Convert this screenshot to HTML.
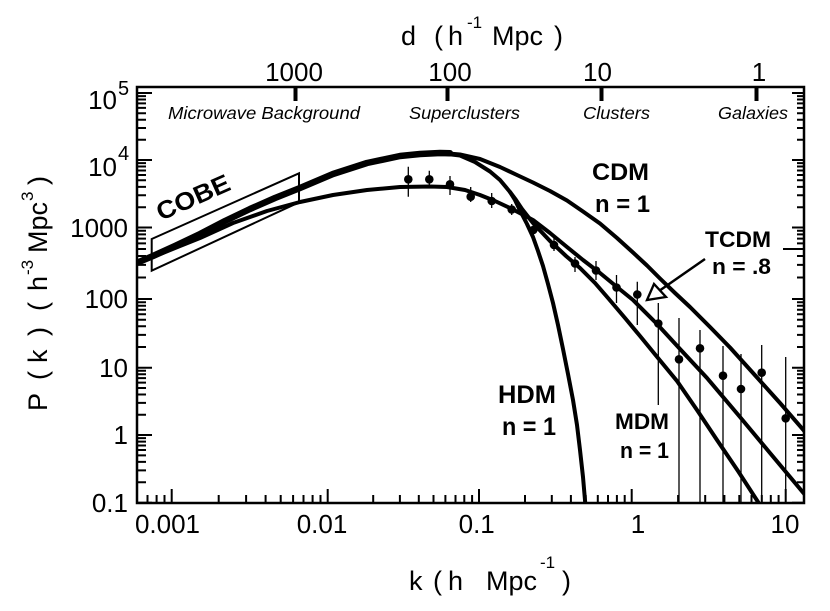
<!DOCTYPE html>
<html><head><meta charset="utf-8"><style>
html,body{margin:0;padding:0;background:#fff;}
svg{display:block;}
text{font-family:"Liberation Sans",Arial,sans-serif;fill:#000;}
</style></head><body>
<svg width="830" height="611" viewBox="0 0 830 611" xmlns="http://www.w3.org/2000/svg">
<defs><clipPath id="pc"><rect x="137" y="87" width="667" height="416"/></clipPath></defs>
<rect width="830" height="611" fill="#fff"/>

<!-- ticks -->
<g stroke="#000" stroke-width="2" fill="none">
<path d="M137 502.7h15M137 435h15M137 367.7h15M137 299h15M137 227.5h15M137 160h15M137 93h15
M137 482.3h9M137 470.4h9M137 461.9h9M137 455.4h9M137 450h9M137 445.5h9M137 441.6h9M137 438.1h9
M137 414.7h9M137 402.9h9M137 394.5h9M137 388h9M137 382.6h9M137 378.1h9M137 374.2h9M137 370.8h9
M137 347h9M137 334.9h9M137 326.3h9M137 319.7h9M137 314.2h9M137 309.7h9M137 305.7h9M137 302.2h9
M137 277.5h9M137 264.9h9M137 256h9M137 249h9M137 243.4h9M137 238.6h9M137 234.4h9M137 230.8h9
M137 207.2h9M137 195.3h9M137 186.9h9M137 180.3h9M137 175h9M137 170.5h9M137 166.5h9M137 163.1h9
M137 139.8h9M137 128h9M137 119.7h9M137 113.2h9M137 107.9h9M137 103.4h9M137 99.5h9M137 96.1h9"/>
<path d="M804 502.7h-12M804 435h-12M804 367.7h-12M804 299h-12M804 227.5h-12M804 160h-12M804 93h-12
M804 482.3h-7M804 470.4h-7M804 461.9h-7M804 455.4h-7M804 450h-7M804 445.5h-7M804 441.6h-7M804 438.1h-7
M804 414.7h-7M804 402.9h-7M804 394.5h-7M804 388h-7M804 382.6h-7M804 378.1h-7M804 374.2h-7M804 370.8h-7
M804 347h-7M804 334.9h-7M804 326.3h-7M804 319.7h-7M804 314.2h-7M804 309.7h-7M804 305.7h-7M804 302.2h-7
M804 277.5h-7M804 264.9h-7M804 256h-7M804 249h-7M804 243.4h-7M804 238.6h-7M804 234.4h-7M804 230.8h-7
M804 207.2h-7M804 195.3h-7M804 186.9h-7M804 180.3h-7M804 175h-7M804 170.5h-7M804 166.5h-7M804 163.1h-7
M804 139.8h-7M804 128h-7M804 119.7h-7M804 113.2h-7M804 107.9h-7M804 103.4h-7M804 99.5h-7M804 96.1h-7"/>
<path d="M171.7 503v-14M327.7 503v-14M479 503v-14M631.7 503v-14M785.7 503v-14
M147.5 503v-8M156.6 503v-8M164.5 503v-8
M218.7 503v-8M246.1 503v-8M265.6 503v-8M280.7 503v-8M293.1 503v-8M303.5 503v-8M312.6 503v-8M320.5 503v-8
M373.2 503v-8M399.9 503v-8M418.8 503v-8M433.5 503v-8M445.4 503v-8M455.5 503v-8M464.3 503v-8M472.1 503v-8
M525 503v-8M551.8 503v-8M570.9 503v-8M585.7 503v-8M597.8 503v-8M608 503v-8M616.9 503v-8M624.7 503v-8
M678.1 503v-8M705.2 503v-8M724.4 503v-8M739.3 503v-8M751.5 503v-8M761.8 503v-8M770.8 503v-8M778.6 503v-8"/>
<path d="M783 249h14"/>
</g>
<g fill="#000">
<rect x="293.5" y="87" width="4" height="14"/>
<rect x="445.5" y="87" width="4" height="14"/>
<rect x="599.5" y="87" width="4" height="14"/>
<rect x="754.5" y="87" width="4" height="14"/>
</g>

<!-- frame -->
<rect x="137" y="87" width="667" height="416" fill="none" stroke="#000" stroke-width="2.5"/>

<!-- COBE box -->
<polygon points="151.7,239 299,173.3 299,202.3 151.7,270.7" fill="none" stroke="#000" stroke-width="2"/>

<!-- curves -->
<g clip-path="url(#pc)" fill="none" stroke="#000" stroke-linejoin="round" stroke-linecap="round">
<path stroke-width="6.5" d="M134,264 L153,256 L175,246 L200,234 L225,221 L250,209 L275,198 L300,188 L333,174 L367,163 L400,156 L420,154 L440,153 L450,153.3"/>
<path stroke-width="4" d="M430,153.2 L443,153 L460,154.5 L480,159 L500,167 L517,175 L533,182.5 L550,191 L567,200.5 L583,211.5 L600,223.5 L617,238 L633,252.5 L647,265.5 L660,278.5 L675,293 L690,307 L710,327 L730,347.5 L753,373 L780,403 L806,433"/>
<path stroke-width="4" d="M430,153.5 L443,153.5 L460,155.5 L475,162 L490,171.5 L500,180 L510,192 L515,200 L520,210.5 L527,224 L533,237 L538,251 L543,266 L548,284 L553,303 L558,325 L563,349 L568,374 L573,400 L577,425 L580,450 L583,477 L585.5,506"/>
<path stroke-width="4" d="M510,192 L516,200 L522,209 L533,223 L550,241 L566,256 L580,268 L595,283 L608,298 L625,318 L640,336 L658,358 L677,381 L697,410 L717,440 L738,471 L760,505"/>
<path stroke-width="4" d="M134,264 L153,257 L180,246 L200,238 L233,223 L267,211 L300,202 L333,195 L367,190 L400,187 L430,186.5 L447,187 L465,190 L480,195 L495,201 L512,209 L533,220 L550,233 L567,247 L583,260 L600,273 L617,287 L633,300 L657,324 L680,349 L707,378 L740,417 L770,453 L806,496"/>
</g>

<!-- error bars -->
<g stroke="#000" stroke-width="1.3">
<path d="M408.3 166.7V196.7M429.3 170.7V185M450 176V195M470.7 187V202M491.7 193V208M511.7 204V215M533.3 224V236M554 238V251M575 257V272M596 261V280M616.5 275V303M637.3 281.7V325M658.3 303V405M679 318V503M700 330V503M723 346V503M741 354V503M761.7 345V503M785.7 357V503"/>
</g>
<g fill="#000">
<circle cx="408.3" cy="179.3" r="4.3"/><circle cx="429.3" cy="179.3" r="4.3"/><circle cx="450" cy="184.3" r="4.3"/>
<circle cx="470.7" cy="196.7" r="4.3"/><circle cx="491.7" cy="201" r="4.3"/><circle cx="511.7" cy="209.5" r="4.3"/>
<circle cx="533.3" cy="230" r="4.3"/><circle cx="554" cy="245" r="4.3"/><circle cx="575" cy="263.5" r="4.3"/>
<circle cx="596" cy="270.5" r="4.3"/><circle cx="616.5" cy="287.5" r="4.3"/><circle cx="637.3" cy="294.5" r="4.3"/>
<circle cx="658.3" cy="323.5" r="4.3"/><circle cx="679" cy="359.3" r="4.3"/><circle cx="700" cy="348.3" r="4.3"/>
<circle cx="723" cy="375.7" r="4.3"/><circle cx="741" cy="389" r="4.3"/><circle cx="761.7" cy="372.7" r="4.3"/>
<circle cx="785.7" cy="418.3" r="4.3"/>
</g>

<!-- arrow -->
<path d="M705,259 L659,291" stroke="#000" stroke-width="2.5" fill="none"/>
<polygon points="647,300 654,284 666,297" fill="#fff" stroke="#000" stroke-width="2.3" stroke-linejoin="miter"/>

<!-- y tick labels -->
<g font-size="26" text-anchor="end">
<text x="128" y="512">0.1</text>
<text x="128" y="444">1</text>
<text x="128" y="377">10</text>
<text x="128" y="308">100</text>
<text x="128" y="237">1000</text>
<text x="117" y="176">10</text>
<text x="117" y="109">10</text>
</g>
<g font-size="20">
<text x="118" y="160">4</text>
<text x="118" y="95">5</text>
</g>

<!-- x tick labels -->
<g font-size="26" text-anchor="middle">
<text x="167.5" y="533">0.001</text>
<text x="322" y="533">0.01</text>
<text x="476.7" y="533">0.1</text>
<text x="638" y="533">1</text>
<text x="785" y="533">10</text>
<text x="294" y="81">1000</text>
<text x="450" y="81">100</text>
<text x="597.5" y="81">10</text>
<text x="759" y="81">1</text>
</g>

<!-- axis titles -->
<g font-size="27">
<text x="401" y="45">d</text>
<text x="434" y="45">(</text>
<text x="448" y="45">h</text>
<text x="467" y="28" font-size="17">-1</text>
<text x="492" y="45">Mpc</text>
<text x="554" y="45">)</text>

<text x="409" y="590">k</text>
<text x="433" y="590">(</text>
<text x="448" y="590">h</text>
<text x="486" y="590">Mpc</text>
<text x="540" y="568" font-size="17">-1</text>
<text x="562" y="590">)</text>
</g>
<g font-size="27" transform="translate(47,411) rotate(-90)">
<text x="0" y="0">P</text>
<text x="31" y="0">(</text>
<text x="48" y="0">k</text>
<text x="75" y="0">)</text>
<text x="100" y="0">(</text>
<text x="120" y="0">h</text>
<text x="136" y="-14" font-size="17">-3</text>
<text x="158" y="0">Mpc</text>
<text x="210" y="-14" font-size="17">3</text>
<text x="226" y="0">)</text>
</g>

<!-- region labels -->
<g font-size="17.5" font-style="italic">
<text x="168" y="119" textLength="192" lengthAdjust="spacingAndGlyphs">Microwave Background</text>
<text x="409" y="119" textLength="111" lengthAdjust="spacingAndGlyphs">Superclusters</text>
<text x="583" y="119" textLength="67" lengthAdjust="spacingAndGlyphs">Clusters</text>
<text x="718" y="119" textLength="70" lengthAdjust="spacingAndGlyphs">Galaxies</text>
</g>

<!-- model labels -->
<g font-weight="bold">
<text x="592" y="180" font-size="24" textLength="57" lengthAdjust="spacingAndGlyphs">CDM</text>
<text x="595" y="212" font-size="24" textLength="55" lengthAdjust="spacingAndGlyphs">n = 1</text>
<text x="705" y="247" font-size="22" textLength="66" lengthAdjust="spacingAndGlyphs">TCDM</text>
<text x="712" y="274" font-size="22" textLength="59" lengthAdjust="spacingAndGlyphs">n = .8</text>
<text x="498" y="403" font-size="25" textLength="58" lengthAdjust="spacingAndGlyphs">HDM</text>
<text x="502" y="435" font-size="25" textLength="54" lengthAdjust="spacingAndGlyphs">n = 1</text>
<text x="615" y="429" font-size="22" textLength="54" lengthAdjust="spacingAndGlyphs">MDM</text>
<text x="620" y="458" font-size="22" textLength="49" lengthAdjust="spacingAndGlyphs">n = 1</text>
<text transform="translate(161,221) rotate(-24)" font-size="25" textLength="78" lengthAdjust="spacingAndGlyphs">COBE</text>
</g>
</svg>
</body></html>
